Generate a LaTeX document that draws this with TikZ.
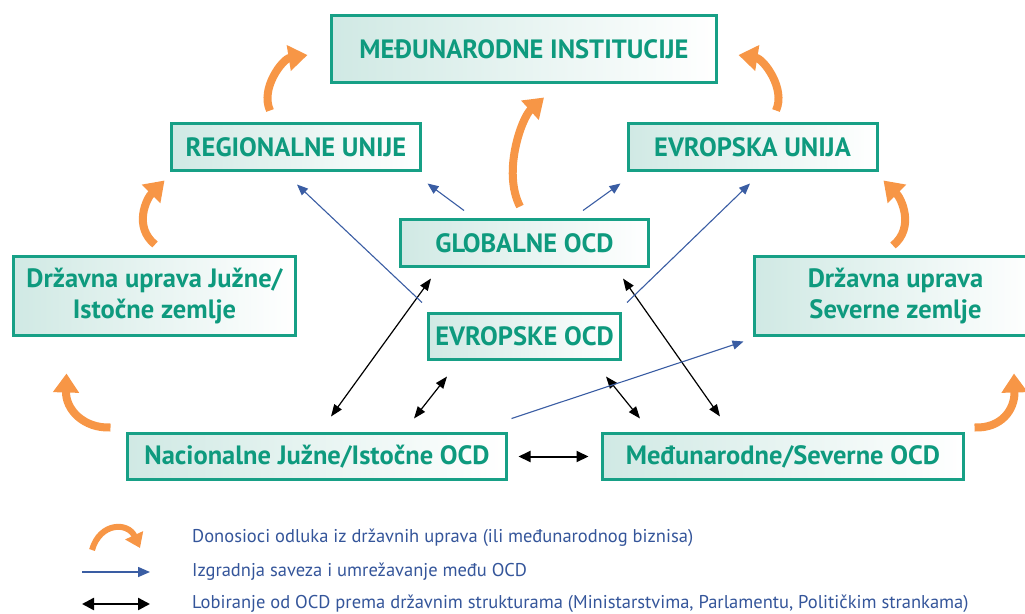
\documentclass[tikz,border=0pt]{standalone}
\usepackage{fontspec}
\setmainfont{PT Sans}
\usetikzlibrary{arrows.meta,calc}
\definecolor{tealline}{HTML}{17A086}
\definecolor{tealtext}{HTML}{0E9A7E}
\definecolor{tealfill}{HTML}{D0E9E4}
\definecolor{orng}{HTML}{F79646}
\definecolor{navy}{HTML}{3A5DA3}
\definecolor{legendtext}{HTML}{34559A}
\begin{document}
\begin{tikzpicture}[x=1pt,y=-1pt,
  box/.style={draw=tealline, line width=3pt, left color=tealfill, right color=white,
    text=tealtext, font=\bfseries\fontsize{26.5}{31}\selectfont, align=center, inner sep=0pt},
  decide/.style={draw=orng, line width=8pt, -{Triangle[width=25pt,length=19pt]}},
  ally/.style={draw=navy, line width=1.1pt, -{Triangle[width=9pt,length=11pt]}},
  lobby/.style={draw=black, line width=1.2pt, {Triangle[width=9pt,length=12pt]}-{Triangle[width=9pt,length=12pt]}},
  legendlabel/.style={anchor=west, text=legendtext, font=\fontsize{18.5}{22}\selectfont, inner sep=0pt}]
\useasboundingbox (0,0) rectangle (1025,613);
\clip (0,0) rectangle (1025,613);

% boxes
\node[box, minimum width=385pt, minimum height=67pt] (inst) at (524,49) {MEĐUNARODNE INSTITUCIJE};
\node[box, minimum width=249pt, minimum height=47pt] (reg) at (296,147) {REGIONALNE UNIJE};
\node[box, minimum width=249pt, minimum height=47pt] (eu) at (752.5,147) {EVROPSKA UNIJA};
\node[box, minimum width=248pt, minimum height=47pt] (glob) at (524.5,243) {GLOBALNE OCD};
\node[box, minimum width=192pt, minimum height=46pt] (evocd) at (524.5,336.5) {EVROPSKE OCD};
\node[box, minimum width=282pt, minimum height=79pt] (dzs) at (154.5,296) {Državna uprava Južne/\\Istočne zemlje};
\node[box, minimum width=282pt, minimum height=79pt] (dzn) at (895.5,296) {Državna uprava\\Severne zemlje};
\node[box, minimum width=379pt, minimum height=46pt] (nat) at (317,456.5) {Nacionalne Južne/Istočne OCD};
\node[box, minimum width=361pt, minimum height=46pt] (intn) at (783,456.5) {Međunarodne/Severne OCD};

% lobbying (black, two-headed)
\draw[lobby] ($(glob.south)+(-93.5,10.5)$) -- ($(nat.north)+(14,-15.5)$);
\draw[lobby] ($(evocd.south)+(-77.5,15.5)$) -- ($(nat.north)+(97,-13.5)$);
\draw[lobby] ($(evocd.south)+(81.5,15.5)$) -- ($(intn.north)+(-143,-13.5)$);
\draw[lobby] ($(glob.south)+(98.5,10.5)$) -- ($(intn.north)+(-63,-15.5)$);
\draw[draw=black, line width=2pt, {Triangle[width=11pt,length=12pt]}-{Triangle[width=11pt,length=12pt]}]
  ($(nat.east)+(10.5,0)$) -- ($(intn.west)+(-12.5,0)$);

% alliances (blue)
\draw[ally] ($(evocd.north)+(-102.5,-9.5)$) -- ($(reg.south)+(1,12.5)$);
\draw[ally] ($(glob.north)+(-60.5,-7.5)$) -- ($(reg.south east)+(5.5,11.5)$);
\draw[ally] ($(glob.north)+(58.5,-7.5)$) -- ($(eu.south west)+(-6,11.5)$);
\draw[ally] ($(evocd.north)+(102.5,-9.5)$) -- ($(eu.south)+(-2.5,11.5)$);
\draw[ally] ($(nat.north east)+(3.5,-13.5)$) -- ($(dzn.south west)+(-9.5,4.5)$);

% decision makers (orange curves)
\draw[decide] ($(nat.north west)+(-15.5,-4.5)$) .. controls +(-27,1) and +(-1,36) .. ($(dzs.south west)+(54.5,36.5)$);
\draw[decide] ($(dzs.north)+(0.5,-10.5)$) .. controls +(-22,-18) and +(-18,18) .. ($(reg.south west)+(-5.5,8.5)$);
\draw[decide] ($(reg.north)+(-26,-11.5)$) .. controls +(-10,-22) and +(-25,4) .. ($(inst.west)+(-22.5,6)$);
\draw[decide] ($(glob.north)+(-4.5,-11.5)$) .. controls +(-18,-35) and +(-22,20) .. ($(inst.south)+(20,13.5)$);
\draw[decide] ($(eu.north)+(23.5,-11.5)$) .. controls +(10,-22) and +(25,4) .. ($(inst.east)+(20.5,6)$);
\draw[decide] ($(dzn.north)+(-2.5,-9.5)$) .. controls +(22,-18) and +(18,18) .. ($(eu.south east)+(5,8.5)$);
\draw[decide] ($(intn.north east)+(9.5,-4.5)$) .. controls +(27,1) and +(1,36) .. ($(dzn.south)+(118.5,36.5)$);

% legend
\coordinate (k1a) at (92,550);
\coordinate (k1b) at (140,548);
\coordinate (k2a) at (82,572);
\coordinate (k2b) at (150,572);
\coordinate (k3a) at (82,604);
\coordinate (k3b) at (150,604);
\draw[draw=orng, line width=6pt, -{Triangle[width=19pt,length=14pt]}] (k1a) .. controls +(8,-28) and +(-12,-26) .. (k1b);
\draw[draw=navy, line width=1.5pt, -{Triangle[width=10pt,length=12pt]}] (k2a) -- (k2b);
\draw[draw=black, line width=2.4pt, {Triangle[width=12pt,length=12pt]}-{Triangle[width=12pt,length=12pt]}] (k3a) -- (k3b);
\node[legendlabel] (t1) at (192,538) {Donosioci odluka iz državnih uprava (ili međunarodnog biznisa)};
\node[legendlabel] (t2) at (192,572) {Izgradnja saveza i umrežavanje među OCD};
\node[legendlabel] (t3) at (192,604) {Lobiranje od OCD prema državnim strukturama (Ministarstvima, Parlamentu, Političkim strankama)};
\end{tikzpicture}
\end{document}
